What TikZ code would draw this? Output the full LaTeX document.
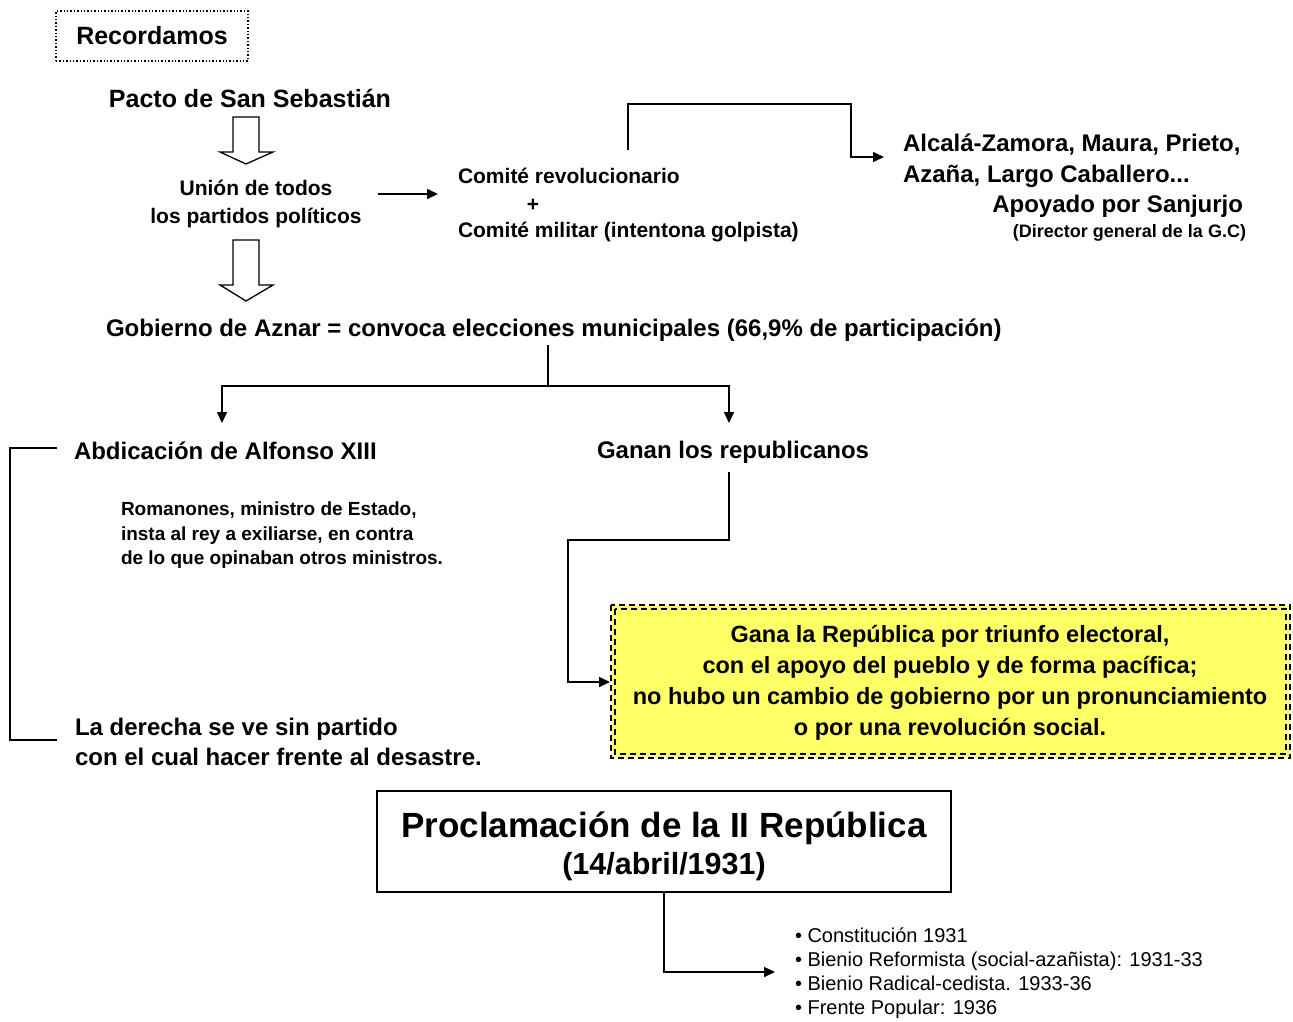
\documentclass[tikz,border=0pt]{standalone}
\usepackage{fontspec}
\setmainfont{Liberation Sans}
\usetikzlibrary{arrows.meta}
\definecolor{yel}{HTML}{FFFF66}
\begin{document}
\begin{tikzpicture}[x=1pt,y=-1pt,
  txt/.style={inner sep=0pt,outer sep=0pt},
  big/.style={txt,font=\fontsize{24}{30}\selectfont\bfseries},
  mid/.style={txt,font=\fontsize{21}{28}\selectfont\bfseries},
  conn/.style={line width=1.6pt,line join=miter},
  arr/.style={conn,-{Triangle[length=11pt,width=10pt]}},
  hollow/.style={draw,line width=1.3pt,fill=white,line join=miter}]
\useasboundingbox (0,0) rectangle (1293,1021);
% Recordamos
\node[draw,dotted,line width=1.4pt,minimum width=192pt,minimum height=50pt,font=\fontsize{25}{28}\selectfont\bfseries] (rec) at (152,36) {Recordamos};
% Pacto
\node[txt,font=\fontsize{25}{30}\selectfont\bfseries] (pacto) at (250,98) {Pacto de San Sebastián};
\node[mid,align=center] (union) at (256,204) {Unión de todos\\los partidos políticos};
\path[hollow] (233,117) -- (259,117) -- (259,152) -- (273,152) -- (246,164) -- (220,152) -- (233,152) -- cycle;
\path[hollow] (233,240) -- (259,240) -- (259,285) -- (273,285) -- (246,301) -- (220,285) -- (233,285) -- cycle;
% Comite
\node[mid,anchor=west] (c1) at (458,176) {Comité revolucionario};
\node[mid] (plus) at (533,205) {+};
\node[mid,anchor=west] (c2) at (458,232) {Comité militar (intentona golpista)};
\coordinate (ua) at (378,194);
\draw[arr] (ua) -- (438,194);
% Alcala
\node[txt,font=\fontsize{24}{31}\selectfont\bfseries,anchor=west] (al1) at (903,145) {Alcalá-Zamora, Maura, Prieto,};
\node[txt,font=\fontsize{24}{31}\selectfont\bfseries,anchor=west] (al2) at (903,176) {Azaña, Largo Caballero...};
\node[txt,font=\fontsize{24}{31}\selectfont\bfseries,anchor=east] (apo) at (1243,206) {Apoyado por Sanjurjo};
\node[txt,font=\fontsize{18}{20}\selectfont\bfseries,anchor=east] (dir) at (1246,233) {(Director general de la G.C)};
\coordinate (cup) at (628,150);
\draw[arr] (cup) |- (851,104) -- (851,157) -- (884,157);
% Gobierno
\node[big,anchor=west] (gob) at (106,330) {Gobierno de Aznar = convoca elecciones municipales (66,9\% de participación)};
\node[big,anchor=west] (abd) at (74,451) {Abdicación de Alfonso XIII};
\node[big,anchor=west] (gan) at (597,452) {Ganan los republicanos};
\coordinate (split) at (548,386);
\draw[conn] (548,345) -- (split);
\draw[arr] (split) -| (222,423);
\draw[arr] (split) -| (729,423);
% Romanones
\node[txt,font=\fontsize{19}{24.5}\selectfont\bfseries,anchor=north west,align=left] (rom) at (121,502) {Romanones, ministro de Estado,\\insta al rey a exiliarse, en contra\\de lo que opinaban otros ministros.};
\node[big,anchor=north west,align=left] (der) at (75,718) {La derecha se ve sin partido\\con el cual hacer frente al desastre.};
\draw[conn] (57,448) -- (10,448) -- (10,740) -- (57,740);
% yellow box
\fill[yel] (612,606) rectangle (1289,757);
\draw[line width=1.3pt,dash pattern=on 6pt off 4pt] (611,605) rectangle (1290,758);
\draw[line width=1.3pt,dash pattern=on 6pt off 4pt] (615,609) rectangle (1286,754);
\node[txt,font=\fontsize{23.5}{31}\selectfont\bfseries,align=center] (rep) at (950,683) {Gana la República por triunfo electoral,\\con el apoyo del pueblo y de forma pacífica;\\no hubo un cambio de gobierno por un pronunciamiento\\o por una revolución social.};
\draw[arr] (729,472) |- (568,540) |- (610,682);
% Proclamacion
\node[draw,line width=1.4pt,minimum width=574pt,minimum height=101pt] (proc) at (664,841.5) {};
\node[txt,font=\fontsize{35}{38}\selectfont\bfseries] (p1) at (664,828) {Proclamación de la II República};
\node[txt,font=\fontsize{30.5}{34}\selectfont\bfseries] (p2) at (664,867) {(14/abril/1931)};
\node[txt,font=\fontsize{20}{24}\selectfont,anchor=north west,align=left] (list) at (795,928) {• Constitución 1931\\• Bienio Reformista (social-azañista): 1931-33\\• Bienio Radical-cedista. 1933-36\\• Frente Popular: 1936};
\draw[arr] (proc.south) |- (775,972);
\end{tikzpicture}
\end{document}
